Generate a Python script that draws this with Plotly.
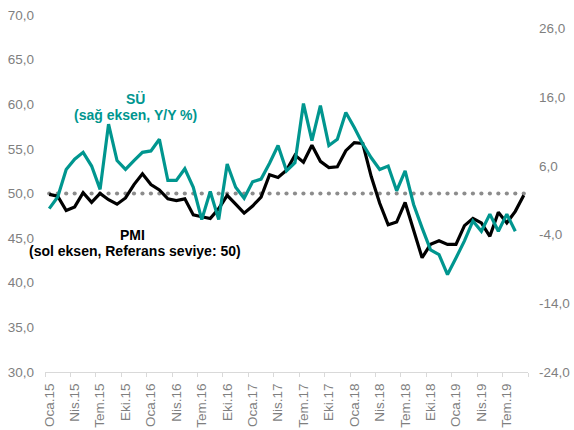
import pandas as pd
import plotly.graph_objects as go

# ---- data ----
months = pd.date_range("2015-01-01", "2019-09-01", freq="MS").strftime("%Y-%m").tolist()

pmi = [
    49.9, 49.7, 48.1, 48.5, 50.1, 49.0, 50.0, 49.3, 48.8, 49.5, 51.0, 52.2,
    51.0, 50.4, 49.4, 49.2, 49.4, 47.6, 47.4, 47.2, 48.3, 49.8, 48.8, 47.8,
    48.6, 49.6, 52.1, 51.8, 52.6, 54.3, 53.5, 55.4, 53.6, 52.9, 53.0, 54.8,
    55.7, 55.6, 51.9, 48.9, 46.5, 46.8, 49.0, 46.0, 42.8, 44.3, 44.7, 44.3,
    44.3, 46.4, 47.2, 46.7, 45.2, 47.9, 46.7, 48.0, 49.8,
]

su = [
    -0.2, 1.5, 5.5, 7.0, 8.0, 6.0, 2.6, 12.1, 6.8, 5.5, 6.8, 8.0,
    8.2, 9.9, 3.9, 3.9, 5.6, 2.9, -1.8, 2.3, -1.8, 6.3, 2.9, 1.3,
    3.7, 4.1, 6.4, 9.0, 5.3, 6.5, 15.1, 9.7, 14.8, 9.0, 9.9, 13.8,
    11.6, 9.2, 7.2, 5.5, 6.0, 2.4, 5.3, 0.4, -3.0, -6.2, -6.9, -9.8,
    -7.4, -4.9, -2.0, -3.5, -1.0, -3.5, -1.0, -3.5,
]

reference_level = [50.0] * len(months)

x_tick_labels = ["Oca.15", "Nis.15", "Tem.15", "Eki.15", "Oca.16", "Nis.16", "Tem.16",
                 "Eki.16", "Oca.17", "Nis.17", "Tem.17", "Eki.17", "Oca.18", "Nis.18",
                 "Tem.18", "Eki.18", "Oca.19", "Nis.19", "Tem.19"]
x_tick_months = ["2015-01", "2015-04", "2015-07", "2015-10", "2016-01", "2016-04", "2016-07",
                 "2016-10", "2017-01", "2017-04", "2017-07", "2017-10", "2018-01", "2018-04",
                 "2018-07", "2018-10", "2019-01", "2019-04", "2019-07"]

left_ticks = [30, 35, 40, 45, 50, 55, 60, 65, 70]
left_tick_labels = ["30,0", "35,0", "40,0", "45,0", "50,0", "55,0", "60,0", "65,0", "70,0"]
right_ticks = [-24, -14, -4, 6, 16, 26]
right_tick_labels = ["-24,0", "-14,0", "-4,0", "6,0", "16,0", "26,0"]

# ---- styling ----
TEAL = "#00968F"
BLACK = "#000000"
GRAY_TXT = "#7F7F7F"
AXIS_GRAY = "#D9D9D9"
FONT = "Liberation Sans, Arial, sans-serif"

idx = list(range(len(months)))
pos = {m: i for i, m in enumerate(months)}
label_pos = [pos[m] for m in x_tick_months]
n = len(months)
boundaries = [i - 0.5 for i in range(0, n + 1, 3)]

fig = go.Figure()

fig.add_trace(go.Scatter(
    x=idx, y=reference_level, mode="markers",
    marker=dict(size=4.2, color="#8C8C8C", line=dict(width=0)),
    hoverinfo="skip", showlegend=False, yaxis="y"))

fig.add_trace(go.Scatter(
    x=idx, y=pmi, mode="lines", name="PMI",
    line=dict(color=BLACK, width=3.2), showlegend=False, yaxis="y"))

fig.add_trace(go.Scatter(
    x=idx[:len(su)], y=su, mode="lines", name="SÜ",
    line=dict(color=TEAL, width=3.2), showlegend=False, yaxis="y2"))

# invisible trace to activate the boundary-tick axis
fig.add_trace(go.Scatter(x=[idx[0]], y=[pmi[0]], mode="markers",
                         marker=dict(opacity=0), xaxis="x2", yaxis="y",
                         hoverinfo="skip", showlegend=False))

fig.update_layout(
    width=574, height=430,
    margin=dict(l=45, r=46, t=15, b=58, autoexpand=False),
    paper_bgcolor="white", plot_bgcolor="white",
    font=dict(family=FONT, color=GRAY_TXT, size=13.5),
    showlegend=False,
    xaxis=dict(
        range=[-0.5, n - 0.5], tickmode="array", tickvals=label_pos, ticktext=x_tick_labels,
        tickangle=-90, ticks="", showline=True, linecolor=AXIS_GRAY, linewidth=1,
        showgrid=False, zeroline=False, tickfont=dict(size=13.5, color=GRAY_TXT),
        ticklabelstandoff=5, automargin=False,
    ),
    xaxis2=dict(
        range=[-0.5, n - 0.5], overlaying="x", anchor="y", side="bottom",
        tickmode="array", tickvals=boundaries, ticks="outside", ticklen=4,
        tickcolor=AXIS_GRAY, showticklabels=False, showgrid=False, zeroline=False,
        showline=False, automargin=False,
    ),
    yaxis=dict(
        range=[30, 70], tickmode="array", tickvals=left_ticks, ticktext=left_tick_labels,
        showgrid=False, zeroline=False, showline=False, ticks="",
        tickfont=dict(size=13.5, color=GRAY_TXT), ticklabelstandoff=10, automargin=False,
    ),
    yaxis2=dict(
        range=[-24, 28], overlaying="y", side="right", tickmode="array",
        tickvals=right_ticks, ticktext=right_tick_labels,
        showgrid=False, zeroline=False, showline=False, ticks="",
        tickfont=dict(size=13.5, color=GRAY_TXT), ticklabelstandoff=10, automargin=False,
    ),
)

ann_font_teal = dict(family=FONT, size=14, color=TEAL)
ann_font_black = dict(family=FONT, size=14, color=BLACK)
fig.add_annotation(x=0.188, y=0.766, xref="paper", yref="paper", text="<b>SÜ</b>",
                   showarrow=False, font=ann_font_teal, xanchor="center", yanchor="middle")
fig.add_annotation(x=0.188, y=0.719, xref="paper", yref="paper",
                   text="<b>(sağ eksen, Y/Y %)</b>",
                   showarrow=False, font=ann_font_teal, xanchor="center", yanchor="middle")
fig.add_annotation(x=0.182, y=0.385, xref="paper", yref="paper", text="<b>PMI</b>",
                   showarrow=False, font=ann_font_black, xanchor="center", yanchor="middle")
fig.add_annotation(x=0.186, y=0.338, xref="paper", yref="paper",
                   text="<b>(sol eksen, Referans seviye: 50)</b>",
                   showarrow=False, font=ann_font_black, xanchor="center", yanchor="middle")

fig.write_html(
    "out.html",
    config={"displayModeBar": False},
    post_script="document.body.style.margin='0';document.body.style.padding='0';"
                "document.body.style.overflow='hidden';",
)
